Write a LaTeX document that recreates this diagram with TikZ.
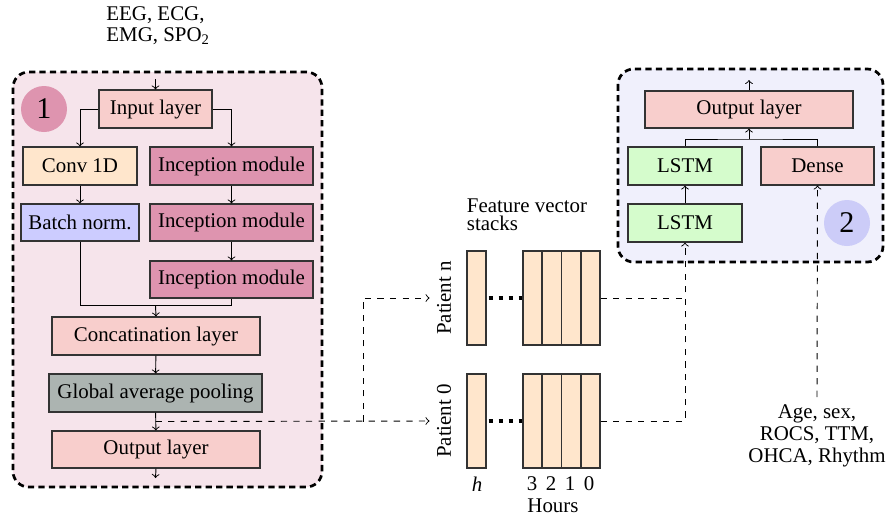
\documentclass[tikz,border=0pt]{standalone}
\usepackage{fontspec}
\setmainfont{Liberation Serif}
\usetikzlibrary{calc}
\newcommand\pxu{0.4785pt}
\definecolor{pinkc}{RGB}{248,206,204}
\definecolor{orangec}{RGB}{255,230,204}
\definecolor{incc}{RGB}{222,148,175}
\definecolor{bluec}{RGB}{204,204,255}
\definecolor{greenc}{RGB}{213,252,204}
\definecolor{greyc}{RGB}{172,180,177}
\definecolor{leftbg}{RGB}{246,228,235}
\definecolor{rightbg}{RGB}{240,240,252}
\definecolor{circtwo}{RGB}{204,204,248}
\begin{document}
\begin{tikzpicture}[x=0.4785pt,y=-0.4785pt,
  every node/.style={font=\fontsize{10}{12}\selectfont},
  box/.style={draw=black!80, line width=0.5pt, inner sep=0pt, minimum height=38*\pxu},
  bar/.style={draw=black!80, line width=0.5pt, inner sep=0pt, fill=orangec, minimum height=94*\pxu},
  bigbox/.style={draw=black, line width=1.3pt, dash pattern=on 3pt off 2pt, rounded corners=7.5pt},
  conn/.style={draw=black, line width=0.45pt},
  dconn/.style={draw=black, line width=0.45pt, dashed},
  numc/.style={circle, inner sep=0pt, minimum size=46*\pxu, font=\fontsize{14.4}{17}\selectfont},
  dots/.style={line width=4*\pxu, dash pattern=on 1.9pt off 2.9pt, dash phase=3.8pt}
]
\useasboundingbox (0,0) rectangle (889,518);

% background panels
\path[bigbox, fill=leftbg] (13,72) rectangle (322,487);
\path[bigbox, fill=rightbg] (618,69) rectangle (883,262);

% left panel
\node[anchor=north west, inner sep=0pt, align=left] (sig) at (106,6.5) {EEG, ECG,\\[-2pt]EMG, SPO\textsubscript{2}};
\node[numc, fill=incc] (c1) at (44,109) {1};
\node[box, fill=pinkc, minimum width=113*\pxu] (in) at (155.5,109) {Input layer};
\node[box, fill=orangec, minimum width=114*\pxu] (conv) at (80,166) {Conv 1D};
\node[box, fill=incc, minimum width=163*\pxu] (inc1) at (231.5,166) {Inception module};
\node[box, fill=bluec, minimum width=118*\pxu, minimum height=37*\pxu] (bn) at (80,222.5) {Batch norm.};
\node[box, fill=incc, minimum width=163*\pxu, minimum height=37*\pxu] (inc2) at (231.5,222.5) {Inception module};
\node[box, fill=incc, minimum width=163*\pxu, minimum height=37*\pxu] (inc3) at (231.5,279.5) {Inception module};
\node[box, fill=pinkc, minimum width=208*\pxu] (cat) at (156,336) {Concatination layer};
\node[box, fill=greyc, minimum width=213*\pxu] (gap) at (155.5,393) {Global average pooling};
\node[box, fill=pinkc, minimum width=208*\pxu, minimum height=37*\pxu] (out1) at (156,449.5) {Output layer};

\coordinate (topin) at (155.5,79);
\coordinate (m) at (155.5,305.7);
\coordinate (jg) at (155.5,421.5);
\coordinate (botout) at (155.5,478);

\draw[conn,->] (topin) -- (in.north);
\draw[conn,->] (in.west) -| (conv.north);
\draw[conn,->] (in.east) -| (inc1.north);
\draw[conn,->] (conv) -- (bn);
\draw[conn,->] (inc1) -- (inc2);
\draw[conn,->] (inc2) -- (inc3);
\draw[conn] (bn.south) |- (m) -| (inc3.south);
\draw[conn,->] (m) -- (cat.north);
\draw[conn,->] (cat) -- (gap);
\draw[conn,->] (gap) -- (out1);
\draw[conn,->] (out1.south) -- (botout);

% feature vector stacks
\node[anchor=north west, inner sep=0pt, align=left] (fvs) at (466.5,198) {Feature vector\\[-3.2pt]stacks};
\node[bar, minimum width=19*\pxu] (hn) at (476.5,298) {};
\node[bar, minimum width=77*\pxu] (sn) at (561.5,298) {};
\node[bar, minimum width=19*\pxu] (h0) at (476.5,421) {};
\node[bar, minimum width=77*\pxu] (s0) at (561.5,421) {};
\foreach \k in {1,2,3} {
  \draw[draw=black!80, line width=0.5pt] ($(sn.north west)!\k/4!(sn.north east)$) -- ($(sn.south west)!\k/4!(sn.south east)$);
  \draw[draw=black!80, line width=0.5pt] ($(s0.north west)!\k/4!(s0.north east)$) -- ($(s0.south west)!\k/4!(s0.south east)$);
}
\draw[dots] (hn.east) -- (sn.west);
\draw[dots] (h0.east) -- (s0.west);
\node[rotate=90] (pn) at (444,298) {Patient n};
\node[rotate=90] (p0) at (444,421) {Patient 0};
\node (hl) at (477,484) {\textit{h}};
\node (d3) at (532,484) {3};
\node (d2) at (551,484) {2};
\node (d1) at (570,484) {1};
\node (d0) at (589,484) {0};
\node (hrs) at (553,505.5) {Hours};

\coordinate (br) at (363,421.5);
\draw[dconn,->] (jg) -- (p0.north);
\draw[dconn,->] (br) |- (pn.north);

% right panel
\node[box, fill=pinkc, minimum width=208*\pxu, minimum height=37*\pxu] (out2) at (749,109.5) {Output layer};
\node[box, fill=greenc, minimum width=114*\pxu] (l1) at (685,166) {LSTM};
\node[box, fill=pinkc, minimum width=113*\pxu] (dense) at (817.5,166) {Dense};
\node[box, fill=greenc, minimum width=114*\pxu] (l2) at (685,223) {LSTM};
\node[numc, fill=circtwo] (c2) at (847,223) {2};
\coordinate (jr) at (749,139);
\coordinate (topout) at (749,80);

\draw[conn] (l1.north) |- (jr) -| (dense.north);
\draw[conn,->] (jr) -- (out2.south);
\draw[conn,->] (out2.north) -- (topout);
\draw[conn,->] (l2) -- (l1);

\draw[dconn,->] (s0.east) -| (l2.south);
\draw[dconn] (sn.east) -- (sn.east -| l2.south);

\node[anchor=north, align=center] (meta) at (817,397) {Age, sex,\\[-1.5pt]ROCS, TTM,\\[-1.5pt]OHCA, Rhythm};
\draw[dconn,->] (meta.north) -- (dense.south);
\end{tikzpicture}
\end{document}
